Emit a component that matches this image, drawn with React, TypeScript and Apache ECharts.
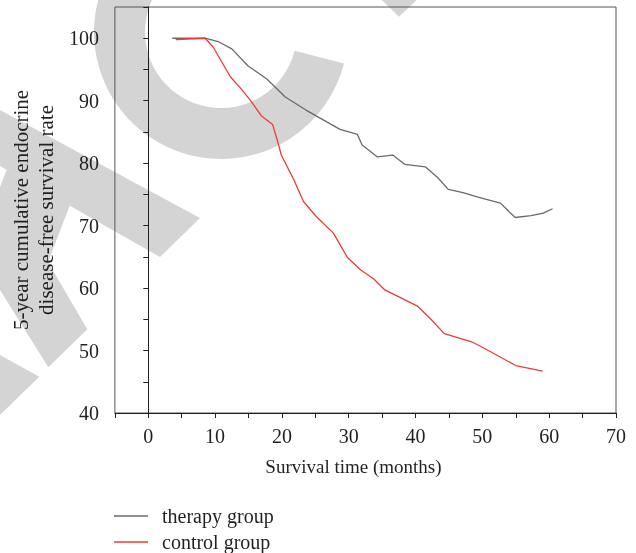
import React, { useEffect, useRef } from "react";
import * as echarts from "echarts";

const therapyMonths = [3.6, 8.5, 10.6, 12.5, 14.9, 17.7, 20.5, 23.6, 26.7, 28.7, 31.3, 32.0, 34.3, 36.6, 38.4, 41.5, 43.3, 44.9, 47.1, 49.2, 52.7, 54.9, 57.3, 59.1, 60.5];
const therapyRate = [100, 100, 99.4, 98.3, 95.6, 93.5, 90.6, 88.5, 86.6, 85.4, 84.6, 82.9, 81.0, 81.3, 79.8, 79.4, 77.7, 75.8, 75.3, 74.6, 73.6, 71.3, 71.6, 72.0, 72.7];

const controlMonths = [4.1, 8.5, 9.7, 12.3, 13.9, 15.4, 16.9, 18.6, 19.3, 19.9, 21.8, 23.2, 25.1, 27.7, 29.8, 31.8, 33.8, 35.4, 40.3, 42.3, 44.3, 48.4, 50.2, 55.0, 59.0];
const controlRate = [99.8, 100, 98.6, 93.8, 91.9, 89.9, 87.6, 86.2, 83.7, 81.3, 77.3, 73.9, 71.5, 68.8, 64.9, 62.9, 61.4, 59.7, 57.1, 55.0, 52.7, 51.4, 50.4, 47.6, 46.7];

const seriesNames = ["therapy group", "control group"];
const xLabelValues = [0, 10, 20, 30, 40, 50, 60, 70];
const yLabelValues = [40, 50, 60, 70, 80, 90, 100];

const xTitle = "Survival time (months)";
const yTitle = "5-year cumulative endocrine\ndisease-free survival rate";

export default function App() {
  const ref = useRef<HTMLDivElement>(null);
  useEffect(() => {
    const chart = echarts.init(ref.current!, null, { renderer: "svg" });
    const font = "'Liberation Serif', 'Times New Roman', serif";
    const ink = "#231f20";
    const wm = "#d4d4d4";
    const pair = (xs: number[], ys: number[]) => xs.map((x, i) => [x, ys[i]]);
    chart.setOption({
      animation: false,
      graphic: {
        elements: [
          { type: "sector", z: -10, silent: true, shape: { cx: 221, cy: 32, r0: 76, r: 127, startAngle: 0.25, endAngle: 4.71, clockwise: true }, style: { fill: wm } },
          { type: "polygon", z: -10, silent: true, shape: { points: [[381.7, 0], [416.7, 0], [399, 16.7]] }, style: { fill: wm } },
          { type: "polygon", z: -10, silent: true, shape: { points: [[0, 110], [200, 218], [160, 257], [0, 166]] }, style: { fill: wm } },
          { type: "polygon", z: -10, silent: true, shape: { points: [[0, 187], [6.7, 169.7], [70, 205], [48, 262], [87.3, 329.3], [48.3, 367.3], [0, 290]] }, style: { fill: wm } },
          { type: "polygon", z: -10, silent: true, shape: { points: [[0, 355], [39.3, 376.7], [0, 415]] }, style: { fill: wm } },
        ],
      },
      grid: { left: 114, right: 20, top: 7, bottom: 140, show: true, borderColor: "#555", borderWidth: 1 },
      legend: {
        data: seriesNames,
        orient: "vertical",
        left: 114,
        top: 506,
        padding: 0,
        height: 47,
        icon: "rect",
        itemWidth: 34,
        itemHeight: 1.3,
        itemGap: 6,
        textStyle: { fontFamily: font, fontSize: 20, color: ink, padding: [0, 0, 0, 9], lineHeight: 20 },
      },
      xAxis: {
        type: "value",
        min: -5,
        max: 70,
        interval: 5,
        name: xTitle,
        nameLocation: "middle",
        nameGap: 44,
        nameTextStyle: { fontFamily: font, fontSize: 19, color: ink, padding: [0, 24, 0, 0] },
        axisLine: { show: true, lineStyle: { color: ink, width: 1 } },
        axisTick: { show: true, inside: false, length: 5, lineStyle: { color: ink } },
        axisLabel: {
          fontFamily: font,
          fontSize: 20,
          color: ink,
          margin: 13,
          showMinLabel: true,
          showMaxLabel: true,
          formatter: (v: number) => (xLabelValues.includes(v) ? String(v) : ""),
        },
        splitLine: { show: false },
      },
      yAxis: {
        type: "value",
        min: 40,
        max: 105,
        interval: 5,
        name: yTitle,
        nameLocation: "middle",
        nameGap: 56,
        nameTextStyle: { fontFamily: font, fontSize: 21, color: ink, lineHeight: 25 },
        axisLine: { show: true, lineStyle: { color: ink, width: 1 } },
        axisTick: { show: true, inside: false, length: 5, lineStyle: { color: ink } },
        axisLabel: {
          fontFamily: font,
          fontSize: 20,
          color: ink,
          margin: 16,
          formatter: (v: number) => (yLabelValues.includes(v) ? String(v) : ""),
        },
        splitLine: { show: false },
      },
      series: [
        {
          name: seriesNames[0],
          type: "line",
          symbol: "none",
          data: pair(therapyMonths, therapyRate),
          lineStyle: { color: "#6a6a6a", width: 1.3 },
          itemStyle: { color: "#6a6a6a" },
        },
        {
          name: seriesNames[1],
          type: "line",
          symbol: "none",
          data: pair(controlMonths, controlRate),
          lineStyle: { color: "#ee3b33", width: 1.3 },
          itemStyle: { color: "#ee3b33" },
        },
      ],
    });
    return () => chart.dispose();
  }, []);
  return <div ref={ref} style={{ position: "fixed", left: 0, top: 0, width: 636, height: 553 }} />;
}
